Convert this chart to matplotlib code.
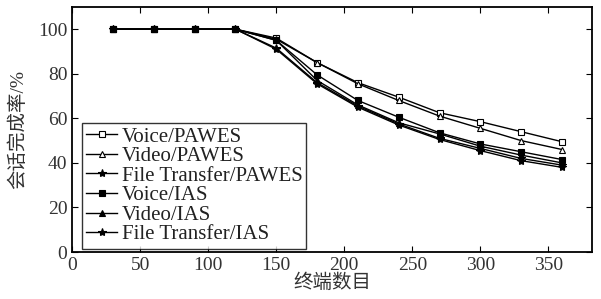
import matplotlib
matplotlib.use("Agg")
import matplotlib.pyplot as plt

plt.rcParams['font.family'] = ['Liberation Serif', 'Noto Sans CJK SC']
plt.rcParams['mathtext.fontset'] = 'stix'

# 终端数目
terminals = [30, 60, 90, 120, 150, 180, 210, 240, 270, 300, 330, 360]

# 会话完成率 (%)
voice_pawes = [100, 100, 100, 100, 96.0, 85.0, 76.0, 69.5, 62.5, 58.5, 54.0, 49.5]
video_pawes = [100, 100, 100, 100, 95.5, 85.0, 75.5, 68.0, 61.0, 55.5, 50.0, 46.0]
file_pawes = [100, 100, 100, 100, 91.5, 76.0, 65.5, 57.5, 51.0, 46.5, 42.0, 39.0]
voice_ias = [100, 100, 100, 100, 95.0, 79.5, 68.0, 60.5, 53.5, 48.5, 45.0, 41.5]
video_ias = [100, 100, 100, 100, 95.0, 77.0, 66.0, 58.0, 53.0, 47.5, 43.5, 40.0]
file_ias = [100, 100, 100, 100, 91.0, 75.5, 65.0, 57.0, 50.5, 45.5, 41.0, 38.0]

labels = ["Voice/PAWES", "Video/PAWES", "File Transfer/PAWES",
          "Voice/IAS", "Video/IAS", "File Transfer/IAS"]

fig = plt.figure(figsize=(6.01, 2.99), dpi=100)
ax = fig.add_axes([0.12, 0.157, 0.865, 0.82])

series = [voice_pawes, video_pawes, file_pawes, voice_ias, video_ias, file_ias]
styles = [("s", "white", 4), ("^", "white", 5), ("*", "black", 6),
          ("s", "black", 4), ("^", "black", 5), ("*", "black", 6)]

for vals, (m, fc, ms), lab in zip(series, styles, labels):
    ax.plot(terminals, vals, color="black", lw=1.0, marker=m, ms=ms,
            mfc=fc, mec="black", mew=0.8, label=lab)

ax.set_xlim(0, 382)
ax.set_ylim(0, 110)
ax.set_xticks(range(0, 351, 50))
ax.set_yticks(range(0, 101, 20))
ax.tick_params(direction="in", top=True, right=True, labelsize=14,
               length=4, width=0.8, colors="black", labelcolor="#333333")
for s in ax.spines.values():
    s.set_linewidth(1.3)

ax.set_xlabel("终端数目", fontsize=14, labelpad=0, color="#333333")
ax.set_ylabel("会话完成率/%", fontsize=14, labelpad=8, color="#333333")

leg = ax.legend(loc="lower left", bbox_to_anchor=(0.019, 0.014), fontsize=15,
                frameon=True, fancybox=False, edgecolor="black",
                handlelength=1.5, handletextpad=0.2, labelspacing=0.0,
                borderpad=0.2, borderaxespad=0)
leg.get_frame().set_linewidth(1.0)
for t in leg.get_texts():
    t.set_color("#222222")

fig.savefig("out.png", dpi=100)
